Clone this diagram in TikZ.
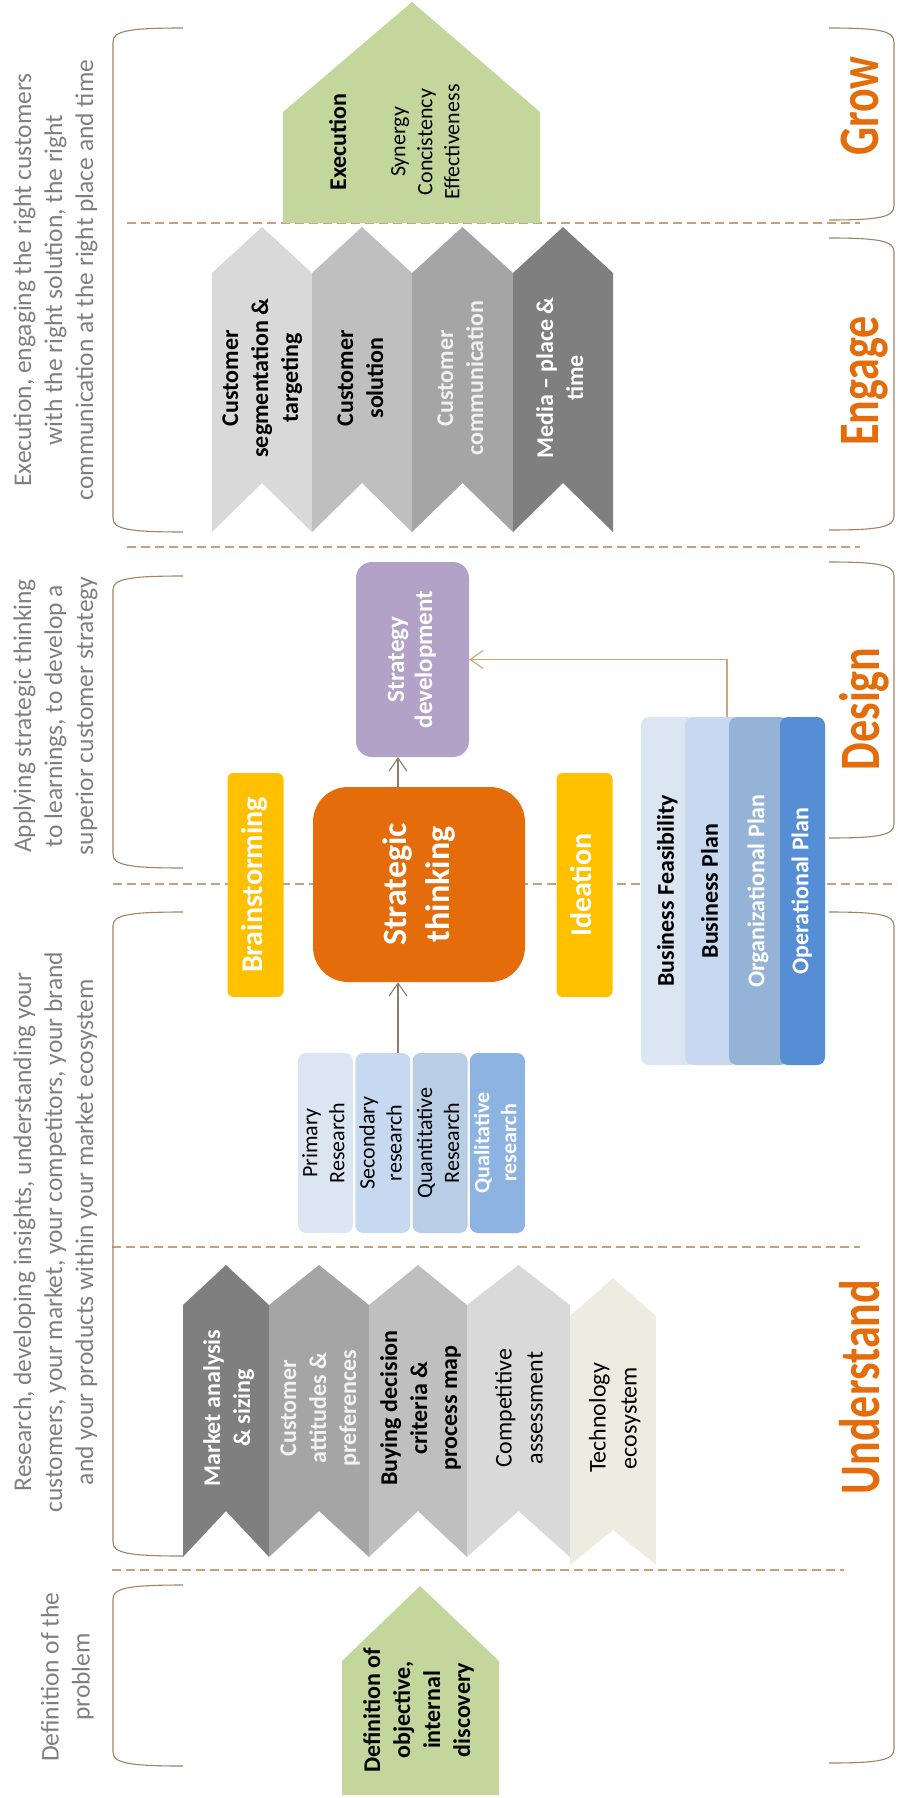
\documentclass[tikz,border=0pt]{standalone}
\usepackage{fontspec}
\setmainfont{Carlito}
\usetikzlibrary{arrows.meta,positioning}
\definecolor{NoteGray}{HTML}{7F7F7F}
\definecolor{PhaseOrange}{HTML}{E46C0A}
\definecolor{BracketBrown}{HTML}{A08462}
\definecolor{DashTan}{HTML}{C8A07A}
\definecolor{LinkBrown}{HTML}{8F7A66}
\definecolor{LinkTan}{HTML}{CFA674}
\definecolor{LeafGreen}{HTML}{C3D69B}
\definecolor{Gray1}{HTML}{D9D9D9}
\definecolor{Gray2}{HTML}{BFBFBF}
\definecolor{Gray3}{HTML}{A5A5A5}
\definecolor{Gray4}{HTML}{7F7F7F}
\definecolor{Beige}{HTML}{EEECE1}
\definecolor{StratOrange}{HTML}{E46C0A}
\definecolor{StratPurple}{HTML}{B3A2C7}
\definecolor{IdeaYellow}{HTML}{FFC000}
\definecolor{Blue1}{HTML}{DCE6F2}
\definecolor{Blue2}{HTML}{C6D9F1}
\definecolor{Blue3}{HTML}{B9CDE5}
\definecolor{Blue4}{HTML}{8DB3E2}
\definecolor{Plan3}{HTML}{95B3D7}
\definecolor{Plan4}{HTML}{558ED5}
\newcommand{\VertT}[1]{\rotatebox{90}{\begin{tabular}{@{}c@{}}#1\end{tabular}}}

\begin{document}
\begin{tikzpicture}[x=1pt,y=-1pt]
			\tikzstyle{sidenote} = [text=NoteGray, inner sep=0, font=\fontsize{25.5}{31}\selectfont]
			\tikzstyle{phaselabel} = [text=PhaseOrange, inner sep=0, font=\bfseries\fontsize{44}{50}\selectfont]
			\tikzstyle{bracketline} = [draw=BracketBrown, line width=1.1pt]
			\tikzstyle{divline} = [draw=DashTan, line width=1.4pt, dash pattern=on 9pt off 5pt]
			\tikzstyle{chevlabel} = [inner sep=0, font=\bfseries\fontsize{24}{30}\selectfont]
			\tikzstyle{roundbox} = [inner sep=0, rounded corners=8pt]
			\tikzstyle{ideabox} = [roundbox, rounded corners=6pt, fill=IdeaYellow, minimum width=56pt,
				minimum height=224pt, text=white, font=\bfseries\fontsize{30}{36}\selectfont]
			\tikzstyle{resbox} = [roundbox, minimum width=55pt, minimum height=180pt, font=\fontsize{22}{27}\selectfont]
			\tikzstyle{planbox} = [roundbox, minimum height=348pt, font=\bfseries\fontsize{24}{29}\selectfont]
			\tikzstyle{link} = [draw=LinkBrown, line width=1.1pt, -{Straight Barb[length=13pt,width=18pt]}]

			\useasboundingbox (0,0) rectangle (897,1798);

			% dashed phase dividers
			\foreach \yy/\xa/\xb in {223/127/860, 547/127/860, 884/113/897, 1247/112/860, 1570/112/844}
				\draw[divline] (\xa,\yy) -- (\xb,\yy);

			% brackets, left and right
			\foreach \ta/\tb in {28/532, 576/868, 912/1556, 1585/1766}
				\draw[bracketline] (183,\ta) .. controls (128,\ta) and (113,\ta+3) .. (113,\ta+14)
					-- (113,\tb-14) .. controls (113,\tb-3) and (128,\tb) .. (183,\tb);
			\foreach \ta/\tb in {28/220, 238/530, 562/838, 912/1763}
				\draw[bracketline] (829,\ta) .. controls (880,\ta) and (894,\ta+3) .. (894,\ta+14)
					-- (894,\tb-14) .. controls (894,\tb-3) and (880,\tb) .. (829,\tb);

			% side notes
			\node(ExecNote)[sidenote] at (56,280){\VertT{Execution, engaging the right customers\\with the right solution, the right\\communication at the right place and time}};
			\node(ApplyNote)[sidenote] at (56,716){\VertT{Applying strategic thinking\\to learnings, to develop a\\superior customer strategy}};
			\node(ResearchNote)[sidenote] at (56,1232){\VertT{Research, developing insights, understanding your\\customers, your market, your competitors, your brand\\and your products within your market ecosystem}};
			\node(DefNote)[sidenote] at (68,1677){\VertT{Definition of the\\problem}};

			% phase names
			\node(GrowLbl)[phaselabel] at (867,106){\VertT{\scalebox{1}[1.3]{Grow}}};
			\node(EngageLbl)[phaselabel] at (867,381){\VertT{\scalebox{1}[1.3]{Engage}}};
			\node(DesignLbl)[phaselabel] at (867,709){\VertT{\scalebox{1}[1.3]{Design}}};
			\node(UnderstandLbl)[phaselabel] at (867,1387){\VertT{\scalebox{1}[1.3]{Understand}}};

			% Grow
			\fill[LeafGreen] (283,223) -- (283,112) -- (412,2) -- (540,112) -- (540,223) -- cycle;
			\node(ExecHead)[chevlabel] at (340,142){\VertT{Execution}};
			\node(ExecList)[inner sep=0, font=\fontsize{22}{27}\selectfont] at (427,142){\VertT{Synergy\\Concistency\\Effectiveness}};

			% Engage
			\foreach \xa/\xb/\col in {212/312/Gray1, 312/412/Gray2, 412/513/Gray3, 513/613/Gray4}
				\fill[\col] (\xa,273) -- ({(\xa+\xb)/2},227) -- (\xb,273) -- (\xb,532)
					-- ({(\xa+\xb)/2},483) -- (\xa,532) -- cycle;
			\tikzset{node distance = 100pt}
			\node(CustSeg)[chevlabel] at (262,378){\VertT{Customer\\segmentation \&\\targeting}};
			\node(CustSol)[chevlabel, right of = CustSeg]{\VertT{Customer\\solution}};
			\node(CustComm)[chevlabel, text=white!94!black, right of = CustSol]{\VertT{Customer\\communication}};
			\node(MediaPT)[chevlabel, text=white, right of = CustComm]{\VertT{Media -- place \&\\time}};

			% Design
			\node(StratDev)[roundbox, rounded corners=16pt, fill=StratPurple, minimum width=113pt, minimum height=195pt,
				text=white, font=\bfseries\fontsize{25}{28}\selectfont] at (412.5,659.5){\VertT{Strategy\\development}};
			\node(StratThink)[roundbox, rounded corners=35pt, fill=StratOrange, minimum width=212pt, minimum height=195pt,
				text=white, font=\bfseries\fontsize{34}{43}\selectfont] at (419,884.5){\VertT{Strategic\\thinking}};
			\node(Brainstorm)[ideabox] at (255.5,885){\VertT{Brainstorming}};
			\node(Ideation)[ideabox] at (584.5,885){\VertT{Ideation}};

			\node(BizFeas)[planbox, fill=Blue1, minimum width=54pt] at (668,891){\VertT{Business Feasibility}};
			\node(BizPlan)[planbox, fill=Blue2, minimum width=54pt] at (712,891){\VertT{Business Plan}};
			\node(OrgPlan)[planbox, fill=Plan3, minimum width=59pt, text=white] at (758.5,891){\VertT{Organizational Plan}};
			\node(OpPlan)[planbox, fill=Plan4, minimum width=45pt, text=white] at (802.5,891){\VertT{Operational Plan}};

			% research feeding strategic thinking
			\node(PrimaryRes)[resbox, fill=Blue1] at (325.5,1143){\VertT{Primary\\Research}};
			\tikzset{node distance = 57.3pt}
			\node(SecondaryRes)[resbox, fill=Blue2, right of = PrimaryRes]{\VertT{Secondary\\research}};
			\node(QuantRes)[resbox, fill=Blue3, right of = SecondaryRes]{\VertT{Quantitative\\Research}};
			\node(QualRes)[resbox, fill=Blue4, text=white, font=\bfseries\fontsize{22}{27}\selectfont,
				right of = QuantRes]{\VertT{Qualitative\\research}};

			\coordinate(ResAxis) at (398,0);
			\coordinate(PlanTop) at (727,717);
			\draw[link] (SecondaryRes.north -| ResAxis) -- (StratThink.south -| ResAxis);
			\draw[link] (StratThink.north -| ResAxis) -- (StratDev.south -| ResAxis);
			\draw[link, draw=LinkTan] (PlanTop) |- (StratDev.east);

			% Understand
			\foreach \xa/\xb/\col in {183/269/Gray4, 269/369/Gray3, 369/467/Gray2, 467/570/Gray1}
				\fill[\col] (\xa,1305) -- ({(\xa+\xb)/2},1265) -- (\xb,1305) -- (\xb,1557)
					-- ({(\xa+\xb)/2},1511) -- (\xa,1557) -- cycle;
			\fill[Beige] (570,1316) -- (613,1278) -- (656,1316) -- (656,1565) -- (613,1530) -- (570,1565) -- cycle;
			\node(MarketAn)[chevlabel, text=white] at (229,1408){\VertT{Market analysis\\\& sizing}};
			\node(CustAtt)[chevlabel, text=white!95!black] at (320,1408){\VertT{Customer\\attitudes \&\\preferences}};
			\node(BuyDec)[chevlabel] at (421,1408){\VertT{Buying decision\\criteria \&\\process map}};
			\node(CompAss)[chevlabel, font=\fontsize{24}{31}\selectfont] at (521,1408){\VertT{Competitive\\assessment}};
			\node(TechEco)[chevlabel, font=\fontsize{24}{31}\selectfont] at (615,1418){\VertT{Technology\\ecosystem}};

			% Definition
			\fill[LeafGreen] (342,1795) -- (342,1661) -- (420,1586) -- (499,1661) -- (499,1795) -- cycle;
			\node(DefObj)[chevlabel] at (419,1710){\VertT{Definition of\\objective,\\internal\\discovery}};

		\end{tikzpicture}
\end{document}
